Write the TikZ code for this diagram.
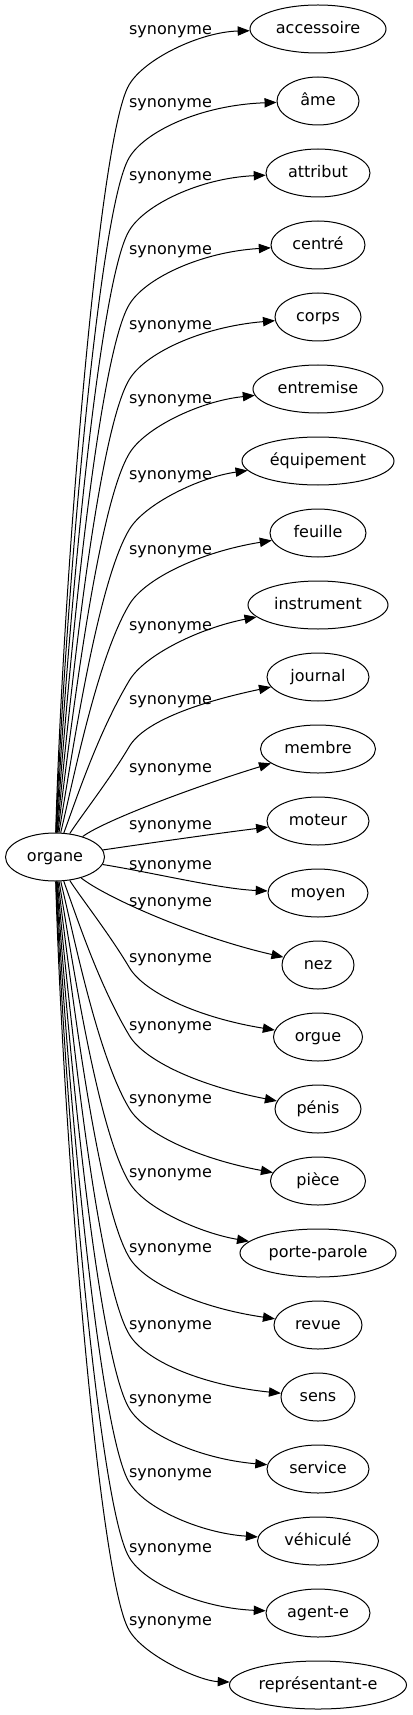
\documentclass[tikz,border=0pt]{standalone}
\usepackage{fontspec}
\setmainfont{DejaVu Sans}
\usetikzlibrary{shapes.geometric,arrows.meta}
\begin{document}
\begin{tikzpicture}[x=0.75pt,y=-0.75pt,
  every node/.style={font=\fontsize{12pt}{14pt}\selectfont, text height=9.1pt, text depth=2.9pt},
  tnode/.style={draw, ellipse, inner sep=0pt, minimum height=36pt, line width=0.75pt},
  lbl/.style={inner sep=0pt},
  synedge/.style={draw, line width=0.75pt, -{Triangle[length=9pt,width=7pt]}}]
\useasboundingbox (0,0) rectangle (412,1715);
\node[tnode, minimum width=74.25pt] (o) at (55,857) {organe};
% target nodes and labels
\foreach \n/\t/\yn/\w/\yl in {
  acc/accessoire/29/102/30, ame/âme/101/61.5/103, att/attribut/173/78/176,
  cen/centré/245/70.5/250, cor/corps/317/64.5/325, ent/entremise/389/97.5/399,
  equ/équipement/461/114/475, feu/feuille/533/72/550, ins/instrument/605/105/626,
  jou/journal/677/76.5/700, mem/membre/749/86.25/768, mot/moteur/821/76.5/825,
  moy/moyen/893/75/865, nez/nez/965/54/902, org/orgue/1037/66.75/958,
  pen/pénis/1109/64.5/1026, pie/pièce/1181/71.25/1099, por/porte-parole/1253/117/1173,
  rev/revue/1325/66/1248, sen/sens/1397/55.5/1325, ser/service/1469/76.5/1399,
  veh/véhiculé/1541/90.75/1473, age/agent-e/1613/78/1548, rep/représentant-e/1685/132.75/1621}
{
  \node[tnode, minimum width=\w pt] (\n) at (318,\yn) {\t};
  \node[lbl] (l\n) at (170.5,\yl) {synonyme};
}
% upper edges
\foreach \n/\yl/\p/\L in {acc/30/85/60, ame/103/158/60, att/176/231/60, cen/250/305/60,
  cor/325/380/60, ent/399/454/60, equ/475/530/60, feu/550/605/60, ins/626/681/60, jou/700/747/38}
{
  \pgfmathsetmacro\dd{857-\p}
  \pgfmathsetmacro\ax{62+20*(1-\dd/800)}
  \pgfmathsetmacro\ay{857-0.35*\dd}
  \pgfmathsetmacro\bx{129-0.51*\L}
  \pgfmathsetmacro\by{\p+0.86*\L}
  \pgfmathsetmacro\cy{\p-26}
  \pgfmathsetmacro\ey{\yl+2}
  \draw[synedge] (o) .. controls (\ax,\ay) and (\bx,\by) .. (129,\p)
     .. controls (144,\cy) and (200,\ey) .. (\n);
}
% lower edges
\foreach \n/\yl/\p/\L in {org/958/967/38, pen/1026/1035/60, pie/1099/1108/60, por/1173/1182/60,
  rev/1248/1257/60, sen/1325/1334/60, ser/1399/1408/60, veh/1473/1482/60, age/1548/1557/60, rep/1621/1630/60}
{
  \pgfmathsetmacro\dd{\p-857}
  \pgfmathsetmacro\ax{62+20*(1-\dd/800)}
  \pgfmathsetmacro\ay{857+0.35*\dd}
  \pgfmathsetmacro\bx{129-0.51*\L}
  \pgfmathsetmacro\by{\p-0.86*\L}
  \pgfmathsetmacro\cy{\p+26}
  \pgfmathsetmacro\ey{\yl+60}
  \draw[synedge] (o) .. controls (\ax,\ay) and (\bx,\by) .. (129,\p)
     .. controls (144,\cy) and (200,\ey) .. (\n);
}
% middle edges
\draw[synedge] (o) .. controls (105,820) and (200,785) .. (mem);
\draw[synedge] (o) .. controls (150,843) and (220,833) .. (mot);
\draw[synedge] (o) .. controls (150,872) and (220,889) .. (moy);
\draw[synedge] (o) .. controls (105,897) and (195,937) .. (nez);
\end{tikzpicture}
\end{document}
